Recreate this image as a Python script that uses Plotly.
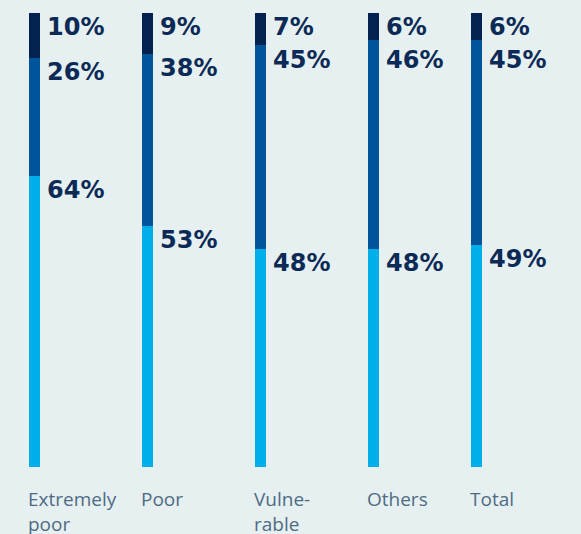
import plotly.graph_objects as go

categories = ["Extremely<br>poor", "Poor", "Vulne-<br>rable", "Others", "Total"]
bottom_vals = [64, 53, 48, 48, 49]
middle_vals = [26, 38, 45, 46, 45]
top_vals = [10, 9, 7, 6, 6]

series = [
    (bottom_vals, "#00aee9"),
    (middle_vals, "#00559a"),
    (top_vals, "#03224f"),
]

BG = "#e6f0f1"
TEXT_DARK = "#0c2a56"
TEXT_CAT = "#4f6b84"

bar_w = 0.097
offsets = [-bar_w / 2] * 4 + [-bar_w / 2 - 0.093]
idx = list(range(len(categories)))

fig = go.Figure()
for vals, col in series:
    fig.add_trace(go.Bar(
        x=idx, y=vals, width=bar_w, offset=offsets,
        marker=dict(color=col, line=dict(width=0)),
        hoverinfo="skip", showlegend=False,
    ))

PX_PER_UNIT = 454 / 100.0
MIN_GAP = 32.5 / PX_PER_UNIT

annotations = []
# value labels at top of each segment (from the top segment downward)
for i in idx:
    tops = []
    cum = 0
    for vals, _ in series:
        cum += vals[i]
        tops.append((cum, vals[i]))
    prev_y = None
    for y_top, v in reversed(tops):
        y_lab = y_top
        if prev_y is not None and prev_y - y_lab < MIN_GAP:
            y_lab = prev_y - MIN_GAP
        prev_y = y_lab
        annotations.append(dict(
            x=i + offsets[i] + bar_w, y=y_lab, xref="x", yref="y",
            text=f"{v}%", showarrow=False,
            xanchor="left", yanchor="top", xshift=5, yshift=2,
            font=dict(family="DejaVu Sans", size=24, color=TEXT_DARK, weight="bold"),
        ))
# category labels
for i in idx:
    annotations.append(dict(
        x=i + offsets[i], y=0, xref="x", yref="paper",
        text=categories[i], showarrow=False, align="left",
        xanchor="left", yanchor="top", xshift=-3, yshift=-17,
        font=dict(family="Open Sans", size=19, color=TEXT_CAT),
    ))

fig.update_layout(
    width=581, height=534,
    margin=dict(l=0, r=0, t=13, b=67),
    paper_bgcolor=BG, plot_bgcolor=BG,
    barmode="stack",
    xaxis=dict(range=[-0.3053, 4.836], visible=False, fixedrange=True),
    yaxis=dict(range=[0, 100], visible=False, fixedrange=True),
    annotations=annotations,
)

fig.write_html(
    "out.html",
    config={"displayModeBar": False},
    post_script="document.body.style.margin='0';document.body.style.overflow='hidden';document.body.style.background='" + BG + "';",
)
